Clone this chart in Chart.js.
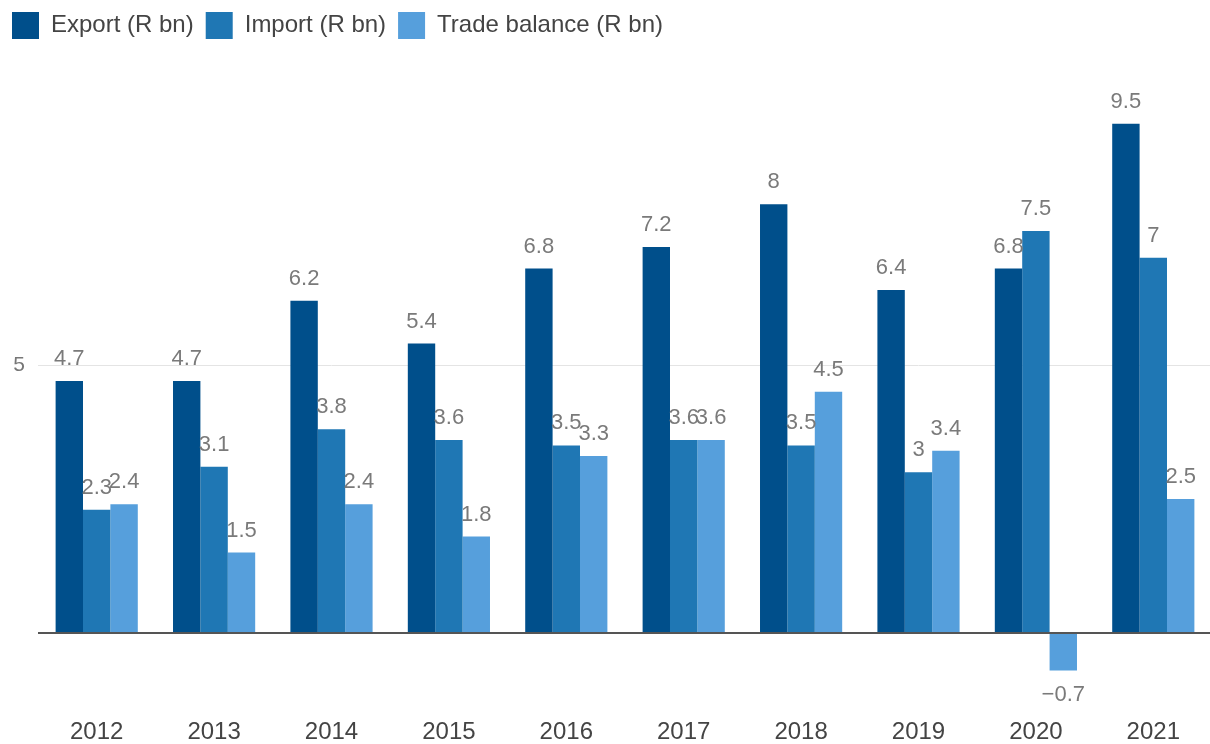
<!DOCTYPE html>
<html>
<head>
<meta charset="utf-8">
<script src="https://cdn.jsdelivr.net/npm/chart.js@4/dist/chart.umd.min.js"></script>
<style>
  html, body { margin: 0; padding: 0; background: #fff; overflow: hidden; }
</style>
</head>
<body>
<canvas id="tradeChart" width="1212" height="744"></canvas>
<script>
  const years = ['2012', '2013', '2014', '2015', '2016', '2017', '2018', '2019', '2020', '2021'];
  const exportValues = [4.7, 4.7, 6.2, 5.4, 6.8, 7.2, 8, 6.4, 6.8, 9.5];
  const importValues = [2.3, 3.1, 3.8, 3.6, 3.5, 3.6, 3.5, 3, 7.5, 7];
  const balanceValues = [2.4, 1.5, 2.4, 1.8, 3.3, 3.6, 4.5, 3.4, -0.7, 2.5];
  const yTicks = [0, 5];

  const fontFamily = '"Liberation Sans", Arial, sans-serif';

  function fmt(v) {
    const r = Math.round(Math.abs(v) * 10) / 10;
    return (v < 0 ? '\u2212' : '') + r;
  }

  // value labels above (or below, for negatives) each bar
  const valueLabels = {
    id: 'valueLabels',
    afterDatasetsDraw(chart) {
      const ctx = chart.ctx;
      ctx.save();
      ctx.font = '22px ' + fontFamily;
      ctx.fillStyle = '#7a7a7a';
      ctx.textAlign = 'center';
      ctx.textBaseline = 'alphabetic';
      chart.data.datasets.forEach((ds, i) => {
        chart.getDatasetMeta(i).data.forEach((bar, j) => {
          const v = ds.data[j];
          const y = v >= 0 ? bar.y - 16 : bar.y + 30;
          ctx.fillText(fmt(v), bar.x, y);
        });
      });
      ctx.restore();
    }
  };

  const ctx = document.getElementById('tradeChart').getContext('2d');

  new Chart(ctx, {
    type: 'bar',
    data: {
      labels: years,
      datasets: [
        { label: 'Export (R bn)', data: exportValues, backgroundColor: '#004f8b' },
        { label: 'Import (R bn)', data: importValues, backgroundColor: '#1f77b4' },
        { label: 'Trade balance (R bn)', data: balanceValues, backgroundColor: '#569fdc' }
      ]
    },
    options: {
      responsive: false,
      animation: false,
      layout: { padding: 0 },
      datasets: {
        bar: { categoryPercentage: 0.7, barPercentage: 1, borderWidth: 0 }
      },
      plugins: {
        tooltip: { enabled: false },
        legend: {
          position: 'top',
          align: 'start',
          labels: {
            boxWidth: 27,
            boxHeight: 27,
            padding: 12,
            color: '#444',
            font: { size: 24, family: fontFamily }
          }
        }
      },
      scales: {
        x: {
          grid: { display: false, drawTicks: false },
          border: { display: false },
          ticks: { color: '#444', padding: 14, font: { size: 24, family: fontFamily } },
          afterFit(scale) { scale.height = 40; }
        },
        y: {
          min: -1.325,
          max: 10.896,
          border: { display: false },
          grid: {
            drawTicks: false,
            color: (c) => c.tick && c.tick.value === 0 ? '#555' : '#e4e4e4',
            lineWidth: (c) => c.tick && c.tick.value === 0 ? 2 : 1
          },
          afterBuildTicks(scale) {
            scale.ticks = yTicks.map(v => ({ value: v }));
          },
          ticks: {
            color: '#777',
            padding: 13,
            font: { size: 21, family: fontFamily },
            callback: (v) => v === 0 ? '' : v
          },
          afterFit(scale) { scale.width = 38; }
        }
      }
    },
    plugins: [valueLabels]
  });
</script>
</body>
</html>
